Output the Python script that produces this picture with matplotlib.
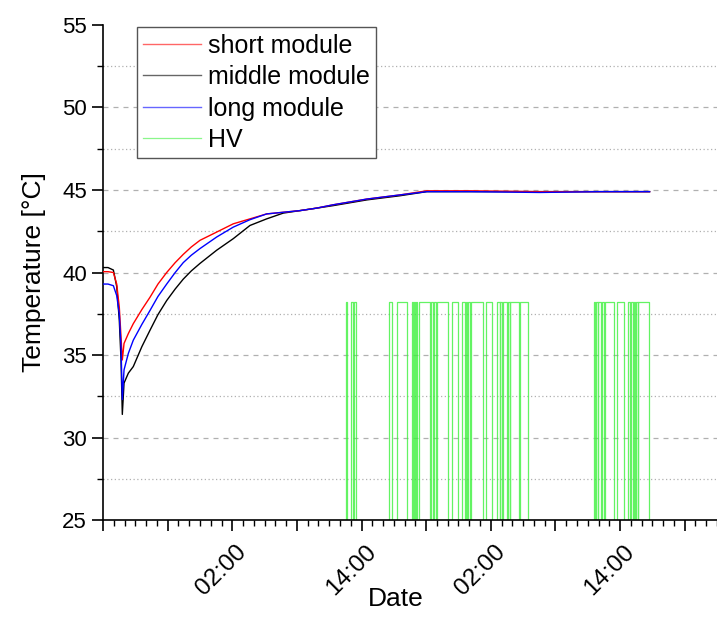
import numpy as np
import pandas as pd
import matplotlib
matplotlib.use("Agg")
import matplotlib.pyplot as plt
import matplotlib.dates as mdates
import matplotlib.transforms as mtransforms
from matplotlib.ticker import MultipleLocator, FuncFormatter

plt.rcParams['font.family'] = ['Liberation Sans', 'DejaVu Sans']

start = pd.Timestamp("2016-03-08 14:00")

# hours since start
t_hours = [0, 0.46, 0.96, 1.27, 1.51, 1.67, 1.79, 1.95, 2.35, 2.81, 3.6, 4.36, 5.1, 5.91, 6.7,
           7.45, 8.2, 9.0, 10.55, 12.09, 13.64, 15.19, 16.73, 18.28, 19.82, 21.34, 24.49,
           27.55, 30.06, 34.04, 40.54, 46.1, 50.74]

short_mod = [40.05, 40.05, 40.0, 39.3, 37.9, 36.1, 34.7, 35.7, 36.3, 36.9, 37.75, 38.5, 39.3,
             40.0, 40.6, 41.1, 41.55, 41.95, 42.45, 42.95, 43.25, 43.55, 43.65, 43.75, 43.9,
             44.1, 44.45, 44.7, 44.95, 44.95, 44.9, 44.9, 44.9]
middle_mod = [40.3, 40.3, 40.15, 39.15, 37.1, 34.7, 31.4, 33.3, 33.9, 34.3, 35.5, 36.5, 37.45,
              38.3, 39.0, 39.6, 40.1, 40.55, 41.35, 42.05, 42.85, 43.25, 43.6, 43.75, 43.9,
              44.05, 44.4, 44.65, 44.9, 44.9, 44.9, 44.9, 44.9]
long_mod = [39.3, 39.3, 39.2, 38.6, 37.5, 35.5, 32.3, 34.1, 35.1, 35.9, 36.85, 37.7, 38.55,
            39.3, 40.0, 40.6, 41.05, 41.45, 42.15, 42.75, 43.2, 43.55, 43.65, 43.75, 43.9,
            44.1, 44.45, 44.7, 44.9, 44.9, 44.85, 44.9, 44.9]

# HV on periods (hours since start)
hv_on = [22.54, 23.03, 23.33, 26.56, 27.30, 28.66, 28.85, 29.04, 29.34, 30.47, 30.75, 30.98,
         32.44, 33.37, 33.67, 33.86, 34.14, 35.59, 36.58, 36.89, 37.13, 37.57, 37.82, 38.75,
         45.61, 45.76, 45.98, 46.29, 46.57, 47.71, 48.77, 49.01, 49.26, 49.44, 49.69]
hv_off = [22.68, 23.22, 23.53, 26.87, 28.23, 28.76, 28.99, 29.16, 30.40, 30.64, 30.89, 32.03,
          33.00, 33.58, 33.79, 34.04, 35.28, 36.15, 36.83, 37.08, 37.48, 37.76, 38.62, 39.43,
          45.69, 45.92, 46.22, 46.52, 47.47, 48.33, 48.95, 49.20, 49.38, 49.63, 50.68]
hv_level = 38.2

hv_t = [0.0]
hv_v = [0.0]
for a, b in zip(hv_on, hv_off):
    hv_t += [a, a, b, b]
    hv_v += [0.0, hv_level, hv_level, 0.0]
hv_t.append(50.74)
hv_v.append(0.0)

to_dt = lambda h: start + pd.to_timedelta(np.array(h), unit="h")

fig = plt.figure(figsize=(7.17, 6.23), dpi=100)
ax = fig.add_axes([0.1437, 0.1653, 0.8563, 0.7946])

ax.plot(to_dt(hv_t), hv_v, color="#3cf03c", lw=0.9, alpha=0.8, label="HV", zorder=2)
ax.plot(to_dt(t_hours), middle_mod, color="black", lw=1.0, label="middle module", zorder=3)
ax.plot(to_dt(t_hours), long_mod, color="#0000ff", lw=1.0, label="long module", zorder=4)
ax.plot(to_dt(t_hours), short_mod, color="#ff0000", lw=1.0, label="short module", zorder=3)

ax.set_ylim(25, 55)
ax.set_xlim(start, start + pd.Timedelta(hours=57))

ax.yaxis.set_major_locator(MultipleLocator(5))
ax.yaxis.set_minor_locator(MultipleLocator(2.5))
ax.xaxis.set_major_locator(mdates.HourLocator(byhour=[2, 8, 14, 20]))
ax.xaxis.set_minor_locator(mdates.HourLocator())

x0 = mdates.date2num(start)


def fmt(x, pos):
    d = mdates.num2date(x)
    if x - x0 < 0.01:
        return ""
    return d.strftime("%H:%M") if d.hour in (2, 14) else ""


ax.xaxis.set_major_formatter(FuncFormatter(fmt))

for y in np.arange(30, 55, 5):
    ax.axhline(y, color="#b0b0b0", lw=0.9, ls=(0, (4, 4)), zorder=1)
for y in np.arange(27.5, 55, 5):
    ax.axhline(y, color="#b0b0b0", lw=0.9, ls=(0, (1, 2)), zorder=1)

ax.spines["top"].set_visible(False)
ax.spines["right"].set_visible(False)
ax.spines["left"].set_linewidth(1.2)
ax.spines["bottom"].set_linewidth(1.2)
ax.tick_params(axis="y", which="major", direction="out", length=8, width=1.2, labelsize=16)
ax.tick_params(axis="x", which="major", direction="out", length=8, width=1.2, labelsize=17.5)
ax.tick_params(axis="both", which="minor", direction="out", length=4, width=1.0)

shift = mtransforms.ScaledTranslation(8 / 72, -9 / 72, fig.dpi_scale_trans)
for lab in ax.get_xticklabels():
    lab.set_rotation(45)
    lab.set_ha("right")
    lab.set_va("center")
    lab.set_rotation_mode("anchor")
    lab.set_transform(lab.get_transform() + shift)

ax.set_ylabel("Temperature [°C]", fontsize=19, labelpad=12)
ax.set_xlabel("Date", fontsize=19)
ax.xaxis.set_label_coords(0.476, -0.135)

h, l = ax.get_legend_handles_labels()
order = [3, 1, 2, 0]
leg = ax.legend([h[i] for i in order], [l[i] for i in order], loc="upper left",
                bbox_to_anchor=(0.055, 0.995), fontsize=18, frameon=True, fancybox=False,
                edgecolor="#555555", framealpha=1, handlelength=2.3, borderpad=0.25,
                labelspacing=0.3, handletextpad=0.3, borderaxespad=0)
leg.get_frame().set_linewidth(1.0)
for line in leg.get_lines():
    line.set_alpha(0.6)

fig.savefig("out.png", dpi=100)
